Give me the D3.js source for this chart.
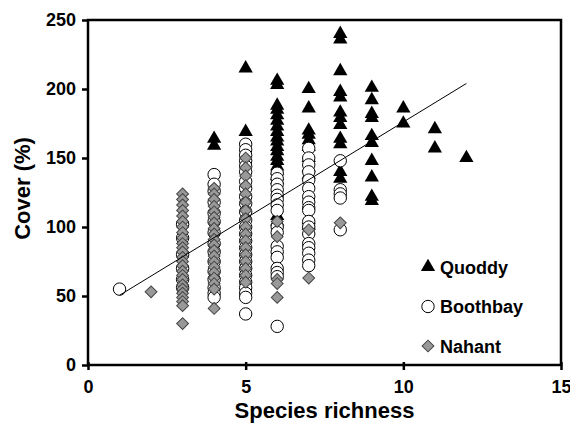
<!DOCTYPE html>
<html>
<head>
<meta charset="utf-8">
<script src="https://cdn.jsdelivr.net/npm/d3@7"></script>
<style>
  html, body { margin: 0; padding: 0; background: #fff; }
  svg text { font-family: "Liberation Sans", Arial, sans-serif; font-weight: bold; }
</style>
</head>
<body>
<div class="chart-container"></div>
<script>
// Series: [species richness, [cover values...]]
const quoddy = [
    [4, [164, 159]],
    [5, [215, 169]],
    [6, [206, 203, 188, 185, 181, 177, 173, 169, 165, 162, 158, 155, 151, 148, 144, 141, 137, 134, 108, 104]],
    [7, [200, 186, 170, 167, 163, 158, 150, 143, 138, 105, 101]],
    [8, [240, 236, 213, 198, 194, 183, 179, 174, 164, 160, 140, 135]],
    [9, [201, 192, 182, 179, 166, 161, 148, 136, 122, 119]],
    [10, [186, 175]],
    [11, [171, 157]],
    [12, [150]]
]
const boothbay = [
    [1, [55]],
    [3, [102, 92, 80, 70, 62, 56]],
    [4, [138, 131, 126, 118, 110, 104, 96, 88, 82, 75, 68, 62, 56, 52, 49]],
    [5, [160, 156, 152, 148, 144, 140, 133, 128, 122, 117, 111, 105, 100, 95, 90, 85, 80, 75, 70, 65, 60, 56, 52, 49, 37]],
    [6, [139, 135, 131, 127, 123, 120, 116, 112, 100, 96, 86, 82, 78, 70, 67, 64, 28]],
    [7, [157, 150, 145, 140, 134, 128, 122, 118, 114, 112, 104, 100, 95, 88, 85, 81, 76, 72]],
    [8, [148, 127, 124, 121, 98]]
]
const nahant = [
    [2, [53]],
    [3, [124, 120, 116, 112, 108, 104, 100, 96, 92, 88, 85, 82, 78, 75, 72, 68, 65, 62, 58, 55, 52, 49, 46, 43, 30]],
    [4, [128, 124, 120, 115, 111, 107, 103, 99, 95, 91, 87, 83, 79, 75, 71, 67, 63, 59, 55, 41]],
    [5, [150, 143, 137, 130, 124, 118, 112, 106, 100, 95, 90, 85, 80, 75, 70, 65, 60]],
    [6, [104, 93, 62, 59, 49]],
    [7, [98, 63]],
    [8, [103]]
]
// regression line end points
const fitX = [1, 12];
const fitY = [50.5, 204];

const xTicks = [0, 5, 10, 15];
const yTicks = [0, 50, 100, 150, 200, 250];
const legendNames = ["Quoddy", "Boothbay", "Nahant"];

// flatten [x, [ys]] -> [{x, y}]
const flat = arr => arr.flatMap(([x, ys]) => ys.map(y => ({x: x, y: y})));

// Dimensions
const W = 570, H = 426;
const margin = { top: 20, right: 9, bottom: 61, left: 88 };
const width = W - margin.left - margin.right;
const height = H - margin.top - margin.bottom;

const svg = d3.select(".chart-container")
    .append("svg")
        .attr("width", W)
        .attr("height", H)
    .append("g")
        .attr("transform", `translate(${margin.left}, ${margin.top})`);

const xScale = d3.scaleLinear().domain([0, 15]).range([0, width]);
const yScale = d3.scaleLinear().domain([0, 250]).range([height, 0]);

// Axes
const gX = svg.append("g")
    .attr("transform", `translate(0, ${height})`)
    .call(d3.axisBottom(xScale).tickValues(xTicks).tickSize(5).tickPadding(10));
gX.selectAll("line").attr("y1", -3).attr("stroke", "#000").attr("stroke-width", 2.5);
gX.selectAll("text").attr("font-size", 18).attr("fill", "#000");

const gY = svg.append("g")
    .call(d3.axisLeft(yScale).tickValues(yTicks).tickSize(6).tickPadding(6));
gY.selectAll("line").attr("stroke", "#000").attr("stroke-width", 2.5);
gY.selectAll("text").attr("font-size", 18).attr("fill", "#000");

svg.selectAll(".domain").remove();

// frame
svg.append("rect")
    .attr("x", 0).attr("y", 0)
    .attr("width", width).attr("height", height)
    .attr("fill", "none")
    .attr("stroke", "#000")
    .attr("stroke-width", 2.5);

// Axis titles
svg.append("text")
    .attr("x", width / 2)
    .attr("y", height + 53)
    .attr("text-anchor", "middle")
    .attr("font-size", 22)
    .text("Species richness");

svg.append("text")
    .attr("transform", `translate(${30 - margin.left}, ${height / 2 - 4}) rotate(-90)`)
    .attr("text-anchor", "middle")
    .attr("font-size", 22)
    .text("Cover (%)");

// Markers
const triangle = d3.symbol().type(d3.symbolTriangle).size(88);
const diamond = d3.symbol().type(d3.symbolSquare).size(70);

svg.append("g").selectAll("path")
    .data(flat(quoddy))
    .join("path")
        .attr("d", triangle)
        .attr("transform", d => `translate(${xScale(d.x)}, ${yScale(d.y)})`)
        .attr("fill", "#000");

svg.append("g").selectAll("circle")
    .data(flat(boothbay))
    .join("circle")
        .attr("cx", d => xScale(d.x))
        .attr("cy", d => yScale(d.y))
        .attr("r", 6.2)
        .attr("fill", "#fff")
        .attr("stroke", "#000")
        .attr("stroke-width", 1);

svg.append("g").selectAll("path")
    .data(flat(nahant))
    .join("path")
        .attr("d", diamond)
        .attr("transform", d => `translate(${xScale(d.x)}, ${yScale(d.y)}) rotate(45)`)
        .attr("fill", "#999")
        .attr("stroke", "#444")
        .attr("stroke-width", 1);

// regression line
svg.append("line")
    .attr("x1", xScale(fitX[0])).attr("y1", yScale(fitY[0]))
    .attr("x2", xScale(fitX[1])).attr("y2", yScale(fitY[1]))
    .attr("stroke", "#000")
    .attr("stroke-width", 1);

// Legend
const legend = svg.append("g").attr("transform", `translate(${428 - margin.left}, ${267 - margin.top})`);
legendNames.forEach((name, i) => {
    const g = legend.append("g").attr("transform", `translate(0, ${i * 39.5})`);
    if (i === 0) g.append("path").attr("d", triangle).attr("fill", "#000");
    if (i === 1) g.append("circle").attr("r", 6.2).attr("fill", "#fff").attr("stroke", "#000");
    if (i === 2) g.append("path").attr("d", diamond).attr("transform", "rotate(45)")
        .attr("fill", "#999").attr("stroke", "#444");
    g.append("text")
        .attr("x", 12)
        .attr("y", 6.5)
        .attr("font-size", 18)
        .text(name);
});
</script>
</body>
</html>
